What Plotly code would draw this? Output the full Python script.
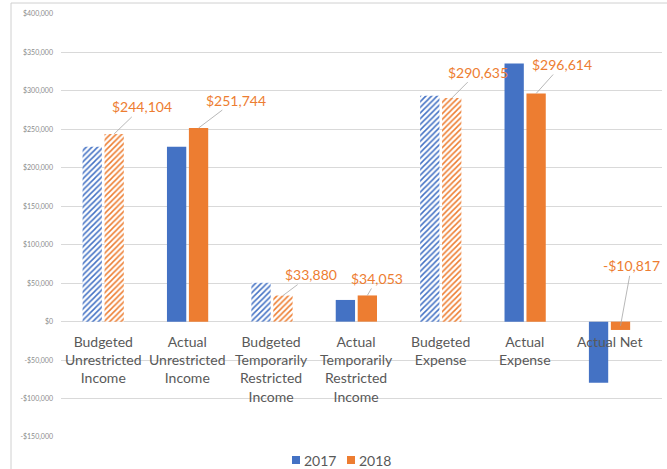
import plotly.graph_objects as go

categories = [
    "Budgeted<br>Unrestricted<br>Income",
    "Actual<br>Unrestricted<br>Income",
    "Budgeted<br>Temporarily<br>Restricted<br>Income",
    "Actual<br>Temporarily<br>Restricted<br>Income",
    "Budgeted<br>Expense",
    "Actual<br>Expense",
    "Actual Net",
]
series_names = ["2017", "2018"]
values_2017 = [227400, 227400, 50500, 28200, 293700, 335800, -79300]
values_2018 = [244104, 251744, 33880, 34053, 290635, 296614, -10817]
is_budget = [True, False, True, False, True, False, False]
tick_values = list(range(-150000, 400001, 50000))

# pixel offsets of the 2018 value labels from their bars
label_offsets = [(28, -27), (37, -28), (28, -21), (10, -17), (26, -26), (26, -29), (11, -60)]

BLUE = "#4472C4"
ORANGE = "#ED7D31"
GRID = "#d9d9d9"
FONT = "Lato, 'Open Sans', sans-serif"
BARGAP = 0.48


def money(v):
    s = "${:,.0f}".format(abs(v))
    return "-" + s if v < 0 else s


shapes_pat = ["/" if b else "" for b in is_budget]
colors = [BLUE, ORANGE]

fig = go.Figure()
for name, vals, col in zip(series_names, [values_2017, values_2018], colors):
    fig.add_trace(go.Bar(
        name=name, x=categories, y=vals, showlegend=False,
        marker=dict(
            color=col,
            line=dict(width=0),
            pattern=dict(shape=shapes_pat, fgcolor=col, bgcolor="white",
                         size=4, solidity=0.38, fillmode="replace"),
        ),
    ))

W, H = 667, 469
L, R, T, B = 61, 5, 14, 32
pw, ph = W - L - R, H - T - B


def px_x(p):
    return (p - L) / pw


def px_y(p):
    return (T + ph - p) / ph


annotations = []
# category labels positioned at the zero line
for c in categories:
    annotations.append(dict(
        x=c, y=0, xref="x", yref="y", text=c, showarrow=False,
        yanchor="top", yshift=-9, font=dict(family=FONT, size=14, color="#595959"),
        align="center",
    ))

# 2018 value labels with leader lines
offset = (1 - BARGAP) / 4
for i, v in enumerate(values_2018):
    ax, ay = label_offsets[i]
    annotations.append(dict(
        x=i + offset, y=(v if v > 0 else v / 2), xref="x", yref="y",
        text=money(v), showarrow=True, arrowhead=0, arrowwidth=0.8,
        arrowcolor="#a6a6a6", ax=ax, ay=ay, standoff=0,
        font=dict(family=FONT, size=14, color=ORANGE),
    ))

# custom legend (swatch + text)
legend_shapes = []
legend_x = [292, 347]
for lx, name, col in zip(legend_x, series_names, colors):
    legend_shapes.append(dict(
        type="rect", xref="paper", yref="paper",
        x0=px_x(lx), x1=px_x(lx + 8), y0=px_y(464), y1=px_y(456),
        line=dict(width=0), fillcolor=col,
    ))
    annotations.append(dict(
        x=px_x(lx + 10), y=px_y(460), xref="paper", yref="paper",
        xanchor="left", yanchor="middle", showarrow=False, text=name,
        font=dict(family=FONT, size=14, color="#595959"),
    ))

tick_text = [money(t) for t in tick_values]

fig.update_layout(
    width=W, height=H, autosize=False,
    margin=dict(l=L, r=R, t=T, b=B, autoexpand=False),
    paper_bgcolor="white", plot_bgcolor="white",
    barmode="group", bargap=BARGAP, bargroupgap=0.12,
    font=dict(family=FONT),
    showlegend=False,
    xaxis=dict(showticklabels=False, showgrid=False, zeroline=False, showline=False,
               ticks=""),
    yaxis=dict(range=[-150000, 400000], tickvals=tick_values, ticktext=tick_text,
               showgrid=True, gridcolor=GRID, gridwidth=1, zeroline=True,
               zerolinecolor=GRID, zerolinewidth=1,
               tickfont=dict(family=FONT, size=7, color="#8c8c8c"),
               ticklabelstandoff=7, ticks=""),
    annotations=annotations,
    shapes=[dict(type="rect", xref="paper", yref="paper",
                 x0=px_x(11), x1=px_x(W + 5),
                 y0=px_y(H + 5), y1=px_y(3),
                 line=dict(color="#d0d0d0", width=1), fillcolor="rgba(0,0,0,0)",
                 layer="below")] + legend_shapes,
)

fig.write_html(
    "out.html",
    config={"displayModeBar": False, "responsive": False},
    post_script="document.body.style.margin='0';document.body.style.overflow='hidden';",
)
